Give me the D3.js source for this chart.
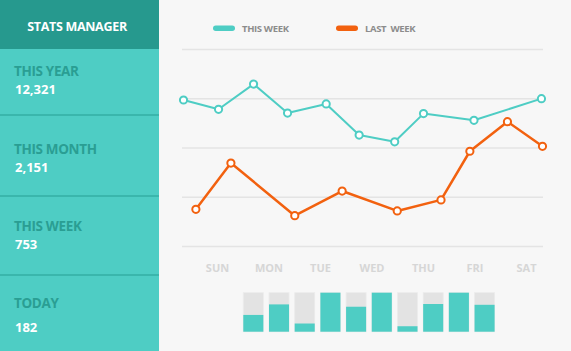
<!DOCTYPE html>
<html lang="en">
<head>
<meta charset="UTF-8">
<title>Stats Manager</title>
<style>
    body { margin: 0; padding: 0; background: #f7f7f7; font-family: "Open Sans", Arial, sans-serif; }
    svg { display: block; }
    .side-label { font-weight: 700; font-size: 13.5px; fill: #2a9e93; letter-spacing: -0.35px; }
    .side-value { font-weight: 700; font-size: 13px; fill: #ffffff; }
    .day text { font-weight: 700; font-size: 11px; fill: #d6d6d6; }
    .legend text { font-weight: 700; font-size: 9.5px; fill: #8c8c8c; letter-spacing: -0.35px; }
</style>
</head>
<body>
<svg id="chart" width="571" height="351"></svg>
<script src="https://d3js.org/d3.v7.min.js"></script>
<script>
    // sidebar stats
    const statLabels = ["THIS YEAR", "THIS MONTH", "THIS WEEK", "TODAY"];
    const statValues = ["12,321", "2,151", "753", "182"];

    // day axis labels
    const days = ["SUN", "MON", "TUE", "WED", "THU", "FRI", "SAT"];

    // line series: x in day units (0 = SUN), y on a 0-100 scale
    const thisWeekX = [-0.65, 0.03, 0.71, 1.37, 2.12, 2.76, 3.45, 4.01, 4.99, 6.30];
    const thisWeekY = [74.1, 69.4, 82.2, 67.5, 72.1, 56.3, 52.9, 67.2, 63.8, 74.8];
    const lastWeekX = [-0.41, 0.27, 1.51, 2.43, 3.50, 4.35, 4.91, 5.64, 6.32];
    const lastWeekY = [18.6, 42.1, 15.4, 27.9, 17.8, 23.4, 48.1, 63.1, 50.6];

    // small bars under the chart (share of full height)
    const barValues = [0.43, 0.70, 0.21, 1.0, 0.64, 1.0, 0.14, 0.71, 1.0, 0.69];

    const teal = "#4ecdc4", orange = "#f2610f";
    const svg = d3.select("#chart");

    // ---- sidebar ----
    const side = svg.append("g");
    side.append("rect").attr("width", 159).attr("height", 351).attr("fill", teal);
    side.append("rect").attr("width", 159).attr("height", 49).attr("fill", "#26998e");
    side.append("text")
        .attr("x", 77).attr("y", 31)
        .attr("text-anchor", "middle")
        .style("font-weight", 700).style("font-size", "12.5px").style("fill", "#fff")
        .style("letter-spacing", "-0.3px")
        .text("STATS MANAGER");

    [115, 196, 275].forEach(y => {
        side.append("line").attr("x1", 0).attr("x2", 159).attr("y1", y).attr("y2", y)
            .attr("stroke", "#35aea5").attr("stroke-width", 1.5);
    });
    const tops = [76, 154, 231, 308];
    statLabels.forEach((s, i) => {
        side.append("text").attr("class", "side-label").attr("x", 14).attr("y", tops[i]).text(s);
        side.append("text").attr("class", "side-value").attr("x", 15).attr("y", tops[i] + (i === 3 ? 24 : 18)).text(statValues[i]);
    });

    // ---- chart ----
    const x = d3.scaleLinear().domain([0, 6]).range([217, 526]);
    const y = d3.scaleLinear().domain([0, 100]).range([246, 49]);

    svg.append("g")
        .attr("transform", "translate(182,0)")
        .call(d3.axisLeft(y).tickValues([0, 25, 50, 75, 100]).tickSize(-361).tickFormat(""))
        .call(g => g.select(".domain").remove())
        .call(g => g.selectAll("line").attr("stroke", "#e4e4e4").attr("stroke-width", 1.5));

    svg.append("g")
        .attr("class", "day")
        .attr("transform", "translate(0,262)")
        .call(d3.axisBottom(x).tickValues(d3.range(7)).tickSize(0).tickPadding(0).tickFormat(i => days[i]))
        .call(g => g.select(".domain").remove())
        .call(g => g.selectAll("text").attr("dy", "0.9em").style("font-family", "'Open Sans', Arial, sans-serif"));

    const line = d3.line().x(d => x(d[0])).y(d => y(d[1]));
    function series(xs, ys, color, w) {
        const pts = xs.map((v, i) => [v, ys[i]]);
        svg.append("path").datum(pts)
            .attr("fill", "none").attr("stroke", color).attr("stroke-width", w)
            .attr("stroke-linejoin", "round").attr("d", line);
        svg.append("g").selectAll("circle").data(pts).join("circle")
            .attr("cx", d => x(d[0])).attr("cy", d => y(d[1])).attr("r", 3.6)
            .attr("fill", "#fff").attr("stroke", color).attr("stroke-width", 2);
    }
    series(thisWeekX, thisWeekY, teal, 2);
    series(lastWeekX, lastWeekY, orange, 2.5);

    // legend
    const legend = svg.append("g").attr("class", "legend");
    [["THIS WEEK", teal, 213], ["LAST  WEEK", orange, 336]].forEach(([t, c, lx]) => {
        legend.append("rect").attr("x", lx).attr("y", 25.5).attr("width", 22).attr("height", 5.5)
            .attr("rx", 2.75).attr("fill", c);
        legend.append("text").attr("x", lx + 29).attr("y", 31.5).attr("xml:space", "preserve")
            .style("white-space", "pre").text(t);
    });

    // bars
    const bx = d3.scaleBand().domain(d3.range(barValues.length)).range([243.3, 494.6]).paddingInner(0.22);
    const by = d3.scaleLinear().domain([0, 1]).range([331.7, 292.7]);
    const bars = svg.append("g");
    bars.selectAll(".bg").data(barValues).join("rect")
        .attr("x", (d, i) => bx(i)).attr("y", by(1)).attr("width", bx.bandwidth()).attr("height", by(0) - by(1))
        .attr("fill", "#e3e3e3").attr("stroke", "#ececec").attr("stroke-width", 0.8);
    bars.selectAll(".fg").data(barValues).join("rect")
        .attr("x", (d, i) => bx(i)).attr("y", d => by(d)).attr("width", bx.bandwidth()).attr("height", d => by(0) - by(d))
        .attr("fill", teal);
</script>
</body>
</html>
